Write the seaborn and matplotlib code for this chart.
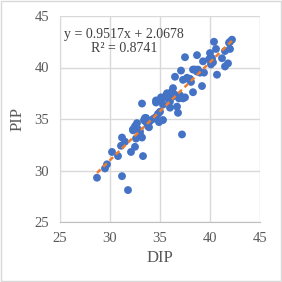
import numpy as np
import pandas as pd
import matplotlib
matplotlib.use("Agg")
import matplotlib.pyplot as plt
import seaborn as sns

dip = [28.7, 29.7, 29.5, 30.2, 30.8, 31.2, 31.8, 31.1, 31.2, 31.5, 32.1, 32.5, 32.6, 32.3, 32.7,
       33.0, 33.2, 33.3, 33.2, 33.6, 33.8, 34.0, 33.5, 34.5, 34.6, 34.6, 35.0, 35.2, 35.3, 35.3,
       34.9, 35.7, 36.0, 36.3, 36.5, 36.3, 36.7, 36.8, 37.0, 37.2, 37.1, 37.3, 37.5, 37.7, 38.0,
       38.3, 38.3, 38.7, 38.8, 39.0, 39.2, 39.3, 39.4, 40.0, 40.2, 40.4, 40.6, 40.7, 41.2, 41.5,
       41.8, 42.0, 42.0, 42.2, 41.5,
       32.3, 32.5, 33.4, 33.5, 33.7, 33.9, 34.3, 34.6, 35.0, 35.1, 35.6, 35.8, 36.2, 36.4, 36.6,
       36.9, 37.3, 37.5, 37.8, 38.1, 38.5, 38.7, 39.9, 40.1, 40.3, 41.9, 36.0, 34.8, 33.0, 32.8]
pip = [29.3, 30.6, 30.2, 31.8, 31.4, 29.45, 28.1, 32.4, 33.2, 32.8, 31.8, 32.3, 33.1, 33.9, 34.6,
       33.8, 33.2, 31.4, 36.5, 35.1, 34.3, 34.8, 34.8, 35.1, 36.8, 36.6, 35.7, 37.0, 36.4, 34.9,
       34.7, 37.5, 36.7, 38.0, 39.1, 37.2, 36.2, 35.6, 37.3, 33.5, 39.7, 38.8, 41.0, 39.0, 38.9,
       39.8, 37.6, 41.2, 39.8, 39.5, 38.2, 40.6, 39.5, 41.4, 40.9, 42.5, 41.8, 39.3, 40.9, 40.1,
       40.4, 41.8, 42.5, 42.7, 41.6,
       34.0, 34.3, 34.9, 35.1, 34.6, 34.2, 35.0, 35.2, 36.8, 37.1, 37.3, 37.0, 37.7, 37.4, 37.3,
       37.0, 37.0, 37.1, 38.9, 38.6, 39.8, 39.6, 40.8, 40.3, 40.5, 42.4, 36.1, 35.5, 33.5, 34.0]

equation = "y = 0.9517x + 2.0678\nR² = 0.8741"
ticks = [25, 30, 35, 40, 45]

df = pd.DataFrame({"DIP": dip, "PIP": pip})

sns.set_style("white")
plt.rcParams["font.family"] = ["Liberation Serif", "DejaVu Serif"]

fig = plt.figure(figsize=(2.82, 2.82), dpi=100)
fig.patch.set_facecolor("white")
fig.patches.append(matplotlib.patches.Rectangle((0.002, 0.002), 0.996, 0.996, transform=fig.transFigure,
                                                fill=False, edgecolor="#d9d9d9", linewidth=1))
ax = fig.add_axes([60/282, 60/282, 200/282, 206/282])

sns.scatterplot(data=df, x="DIP", y="PIP", ax=ax, color="#4472C4", s=32, edgecolor="none", zorder=3)

m, b = np.polyfit(df["DIP"], df["PIP"], 1)
xs = np.array([min(dip), max(dip)])
ax.plot(xs, m * xs + b, color="#ED7D31", linestyle=(0, (2, 1.5)), linewidth=1.8, zorder=4)

ax.set_xlim(25, 45)
ax.set_ylim(25, 45)
ax.set_xticks(ticks)
ax.set_yticks(ticks)
ax.grid(True, color="#d9d9d9", linewidth=1)
ax.set_axisbelow(True)
for s in ax.spines.values():
    s.set_visible(False)
ax.spines["bottom"].set_visible(True)
ax.spines["bottom"].set_color("#bfbfbf")
ax.spines["left"].set_visible(True)
ax.spines["left"].set_color("#d9d9d9")
ax.tick_params(axis="x", length=0, labelsize=10.5, colors="#595959", pad=7)
ax.tick_params(axis="y", length=0, labelsize=10.5, colors="#595959", pad=8)
ax.set_xlabel("DIP", fontsize=12, color="#595959", labelpad=4)
ax.set_ylabel("PIP", fontsize=12, color="#595959", labelpad=6)

ax.text(31.4, 43.8, equation, ha="center", va="top", fontsize=10, color="#404040",
        linespacing=1.05, zorder=5)

fig.savefig("out.png", dpi=100, facecolor="white")
